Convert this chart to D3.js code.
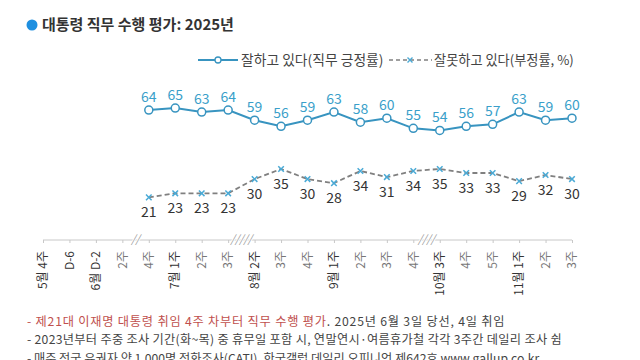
<!DOCTYPE html>
<html><head><meta charset="utf-8">
<script src="https://cdn.jsdelivr.net/npm/d3@7"></script>
<style>
html,body{margin:0;padding:0;background:#fff;}
svg{display:block;font-family:"Noto Sans CJK KR","Noto Sans",sans-serif;}
</style></head>
<body>
<script>
const xLabels = ["5월 4주","D-6","6월 D-2","2주","4주","7월 1주","2주","3주","8월 2주","3주","4주","9월 1주","2주","3주","4주","10월 3주","4주","5주","11월 1주","2주","3주"];
const dataStart = 4;
const positive = [64,65,63,64,59,56,59,63,58,60,55,54,56,57,63,59,60];
const negative = [21,23,23,23,30,35,30,28,34,31,34,35,33,33,29,32,30];
const breaks = [{after:3, mark:"//"},{after:7, mark:"/////"},{after:14, mark:"////"}];
const title = "대통령 직무 수행 평가: 2025년";
const legendPos = "잘하고 있다(직무 긍정률)";
const legendNeg = "잘못하고 있다(부정률, %)";

const W=640,H=360;
const svg=d3.select("body").append("svg").attr("width",W).attr("height",H);

const x=d3.scalePoint().domain(d3.range(xLabels.length)).range([43,572]);
const y=d3.scaleLinear().domain([0,100]).range([240,37]);

const blue="#3894c0", markBlue="#4aaad6", grey="#808080";

// title
svg.append("circle").attr("cx",32).attr("cy",25).attr("r",5.5).attr("fill","#1e8fe0");
svg.append("text").attr("x",42).attr("y",30).attr("font-size",15).attr("font-weight","bold").attr("fill","#333").text(title);

// legend
const lg=svg.append("g");
lg.append("line").attr("x1",198).attr("x2",238).attr("y1",60).attr("y2",60).attr("stroke",blue).attr("stroke-width",2);
lg.append("circle").attr("cx",218).attr("cy",60).attr("r",3).attr("fill","#fff").attr("stroke",blue).attr("stroke-width",1.3);
lg.append("text").attr("x",241).attr("y",65).attr("font-size",13.8).attr("fill","#444").text(legendPos);
lg.append("line").attr("x1",389).attr("x2",432).attr("y1",60).attr("y2",60).attr("stroke",grey).attr("stroke-width",1.6).attr("stroke-dasharray","4,3");
lg.append("path").attr("d",d3.symbol(d3.symbolX,18)()).attr("transform","translate(410,60)").attr("stroke",markBlue).attr("stroke-width",1.4).attr("fill","none");
lg.append("text").attr("x",434).attr("y",65).attr("font-size",13.2).attr("fill","#444").text(legendNeg);

// axis
const axisG=svg.append("g").attr("transform","translate(0,240)");
const axis=d3.axisBottom(x).tickSize(3).tickFormat(()=>"");
axisG.call(axis);
axisG.select(".domain").attr("stroke","#c8c8c8").attr("d",`M${x(0)},0H${x(xLabels.length-1)}`);
axisG.selectAll(".tick line").attr("stroke","#c8c8c8");
// tick labels
svg.append("g").selectAll("text").data(xLabels).join("text")
  .attr("transform",(d,i)=>`translate(${x(i)},251) rotate(-90)`)
  .attr("text-anchor","end").attr("dy","0.35em").attr("font-size",12)
  .attr("fill",d=>/월|D-/.test(d)?"#333":"#777").text(d=>d);
// breaks
breaks.forEach(b=>{
  const cx=(x(b.after)+x(b.after+1))/2;
  svg.append("text").attr("x",cx).attr("y",243).attr("text-anchor","middle")
    .attr("font-size",11).attr("font-style","italic").attr("fill","#999").attr("stroke","#fff").attr("stroke-width",2).attr("paint-order","stroke").text(b.mark);
});

const idx=d=>d.i+dataStart;
const pos=positive.map((v,i)=>({i,v}));
const neg=negative.map((v,i)=>({i,v}));

// negative line
svg.append("path").datum(neg).attr("fill","none").attr("stroke",grey).attr("stroke-width",1.8).attr("stroke-dasharray","5,3")
  .attr("d",d3.line().x(d=>x(idx(d))).y(d=>y(d.v)));
svg.append("g").selectAll("path").data(neg).join("path")
  .attr("d",d3.symbol(d3.symbolX,22)()).attr("transform",d=>`translate(${x(idx(d))},${y(d.v)})`)
  .attr("stroke",markBlue).attr("stroke-width",1.5).attr("fill","none");
svg.append("g").selectAll("text").data(neg).join("text")
  .attr("x",d=>x(idx(d))).attr("y",d=>y(d.v)+20).attr("text-anchor","middle")
  .attr("font-size",14).attr("fill","#333").text(d=>d.v);

// positive line
svg.append("path").datum(pos).attr("fill","none").attr("stroke",blue).attr("stroke-width",2)
  .attr("d",d3.line().x(d=>x(idx(d))).y(d=>y(d.v)));
svg.append("g").selectAll("circle").data(pos).join("circle")
  .attr("cx",d=>x(idx(d))).attr("cy",d=>y(d.v)).attr("r",4)
  .attr("fill","#fff").attr("stroke",blue).attr("stroke-width",1.5);
svg.append("g").selectAll("text").data(pos).join("text")
  .attr("x",d=>x(idx(d))).attr("y",d=>y(d.v)-8).attr("text-anchor","middle")
  .attr("font-size",14).attr("fill","#3a9fca").text(d=>d.v);

// footnotes
const f1=svg.append("text").attr("x",27).attr("y",326).attr("font-size",12.2).attr("letter-spacing",0.8);
f1.append("tspan").attr("fill","#c0504d").text("- 제21대 이재명 대통령 취임 4주 차부터 직무 수행 평가");
f1.append("tspan").attr("fill","#444").text(". 2025년 6월 3일 당선, 4일 취임");
svg.append("text").attr("x",27).attr("y",344).attr("font-size",12.2).attr("letter-spacing",0.3).attr("fill","#444")
  .text("- 2023년부터 주중 조사 기간(화~목) 중 휴무일 포함 시, 연말연시·여름휴가철 각각 3주간 데일리 조사 쉼");
svg.append("text").attr("x",27).attr("y",363).attr("font-size",12.2).attr("fill","#444")
  .text("- 매주 전국 유권자 약 1,000명 전화조사(CATI), 한국갤럽 데일리 오피니언 제642호 www.gallup.co.kr");
</script>
</body></html>
